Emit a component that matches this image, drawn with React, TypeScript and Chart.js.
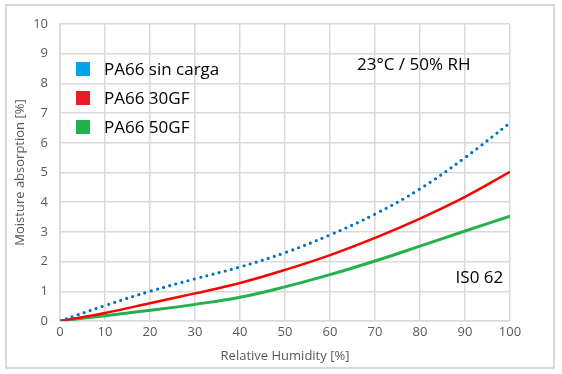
import React, { useEffect, useRef } from "react";
import { Chart, registerables } from "chart.js";

Chart.register(...registerables);

const humidity = [0, 10, 20, 30, 40, 50, 60, 70, 80, 90, 100];
const pa66SinCarga = [0, 0.52, 1.0, 1.42, 1.82, 2.3, 2.9, 3.6, 4.45, 5.5, 6.67];
const pa66_30GF = [0, 0.27, 0.6, 0.93, 1.28, 1.72, 2.22, 2.8, 3.45, 4.18, 5.02];
const pa66_50GF = [0, 0.18, 0.36, 0.56, 0.8, 1.15, 1.56, 2.02, 2.52, 3.03, 3.53];

const seriesLabels = ["PA66 sin carga", "PA66 30GF", "PA66 50GF"];
const legendColors = ["#00A2E8", "#ED1C24", "#22B14C"];
const lineColors = ["#0070C0", "#FF0000", "#22B14C"];
const xTitle = "Relative Humidity [%]";
const yTitle = "Moisture absorption [%]";
const noteTop = "23°C / 50% RH";
const noteBottom = "IS0 62";

const FONT = "'Open Sans', 'Noto Sans', sans-serif";
const toPoints = (ys: number[]) => humidity.map((x, i) => ({ x, y: ys[i] }));

export default function App() {
  const ref = useRef<HTMLCanvasElement | null>(null);

  useEffect(() => {
    document.body.style.margin = "0";
    const canvas = ref.current;
    if (!canvas) return;

    const framePlugin = {
      id: "frame",
      beforeDraw(chart: any) {
        const ctx = chart.ctx;
        ctx.save();
        ctx.fillStyle = "#ffffff";
        ctx.fillRect(0, 0, chart.width, chart.height);
        ctx.strokeStyle = "#d9d9d9";
        ctx.lineWidth = 2;
        ctx.strokeRect(6, 5, 548, 363);
        ctx.restore();
      },
      afterDraw(chart: any) {
        const ctx = chart.ctx;
        const xs = chart.scales.x;
        const ys = chart.scales.y;
        ctx.save();
        ctx.font = "17px " + FONT;
        ctx.textBaseline = "middle";
        ctx.textAlign = "left";
        const rowY = [69, 98, 127];
        chart.data.datasets.forEach((ds: any, i: number) => {
          ctx.fillStyle = legendColors[i];
          ctx.fillRect(76, rowY[i] - 7, 14, 14);
          ctx.fillStyle = "#000000";
          ctx.fillText(ds.label, 104, rowY[i] + 1);
        });
        ctx.textAlign = "left";
        ctx.fillText(noteTop, xs.getPixelForValue(66), ys.getPixelForValue(8.6));
        ctx.textAlign = "right";
        ctx.fillText(noteBottom, xs.getPixelForValue(98.5), ys.getPixelForValue(1.45));
        ctx.restore();
      },
    };

    const chart = new Chart(canvas, {
      type: "line",
      data: {
        datasets: [
          {
            label: seriesLabels[0],
            data: toPoints(pa66SinCarga),
            borderColor: lineColors[0],
            borderWidth: 3.2,
            borderDash: [0, 6.4],
            borderCapStyle: "round",
            pointRadius: 0,
            tension: 0.4,
          },
          {
            label: seriesLabels[1],
            data: toPoints(pa66_30GF),
            borderColor: lineColors[1],
            borderWidth: 2.5,
            pointRadius: 0,
            tension: 0.4,
          },
          {
            label: seriesLabels[2],
            data: toPoints(pa66_50GF),
            borderColor: lineColors[2],
            borderWidth: 3,
            pointRadius: 0,
            tension: 0.4,
          },
        ],
      },
      options: {
        animation: false,
        responsive: false,
        maintainAspectRatio: false,
        layout: { padding: { left: 0, right: 52, top: 24, bottom: 0 } },
        plugins: {
          legend: { display: false },
          tooltip: { enabled: false },
        },
        scales: {
          x: {
            type: "linear",
            min: 0,
            max: 100,
            afterFit: (s: any) => {
              s.height = 53;
            },
            ticks: {
              stepSize: 10,
              color: "#595959",
              font: { size: 13, family: FONT },
              padding: 3,
            },
            grid: { color: "#d9d9d9", lineWidth: 1.5, drawTicks: false },
            border: { color: "#d9d9d9", width: 1.5 },
            title: {
              display: true,
              text: xTitle,
              color: "#595959",
              font: { size: 13, family: FONT },
              padding: { top: 0, bottom: 10 },
            },
          },
          y: {
            type: "linear",
            min: 0,
            max: 10,
            afterFit: (s: any) => {
              s.width = 60;
            },
            ticks: {
              stepSize: 1,
              color: "#595959",
              font: { size: 13, family: FONT },
              padding: 12,
            },
            grid: { color: "#d9d9d9", lineWidth: 1.5, drawTicks: false },
            border: { color: "#d9d9d9", width: 1.5 },
            title: {
              display: true,
              text: yTitle,
              color: "#595959",
              font: { size: 13, family: FONT },
              padding: { top: 12, bottom: 0 },
            },
          },
        },
      },
      plugins: [framePlugin],
    } as any);

    return () => chart.destroy();
  }, []);

  return (
    <div style={{ position: "absolute", left: 0, top: 0, width: 562, height: 374 }}>
      <canvas ref={ref} width={562} height={374} style={{ display: "block", width: 562, height: 374 }} />
    </div>
  );
}
